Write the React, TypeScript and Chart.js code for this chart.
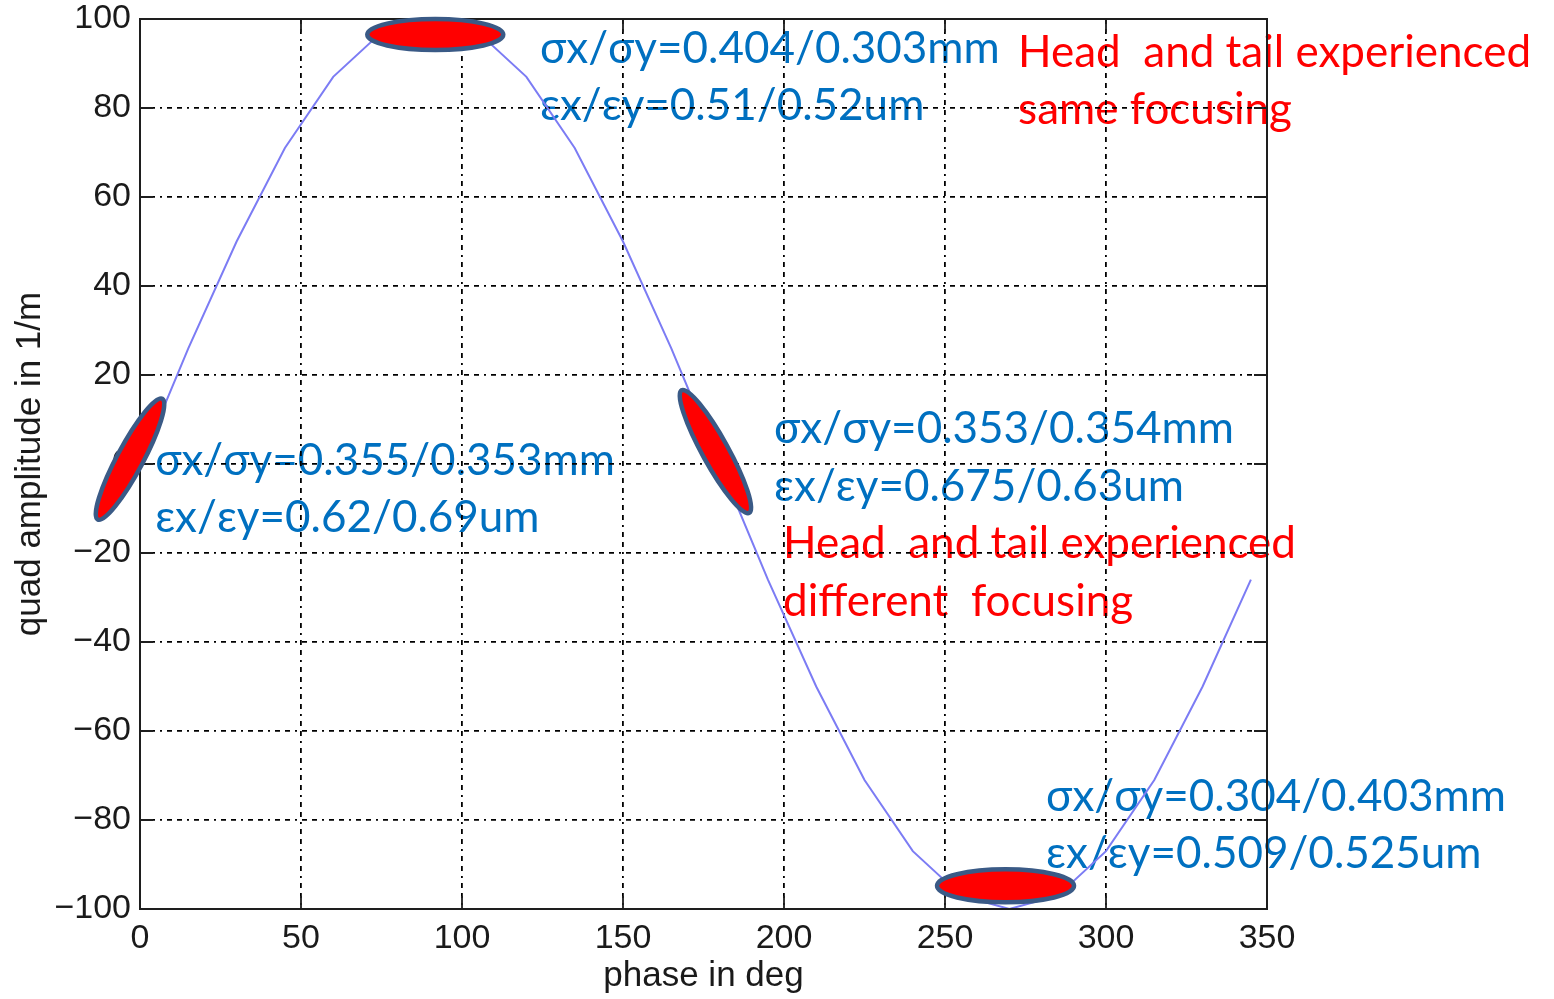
import React, { useEffect, useRef } from "react";
import { Chart, registerables } from "chart.js";

Chart.register(...registerables);

// ---- data ----
const phaseDeg = [0, 15, 30, 45, 60, 75, 90, 105, 120, 135, 150, 165, 180, 195, 210, 225, 240, 255, 270, 285, 300, 315, 330, 345];
const quadAmplitude = [0, 26, 50, 71, 87, 97, 100, 97, 87, 71, 50, 26, 0, -26, -50, -71, -87, -97, -100, -97, -87, -71, -50, -26];

const xTickValues = [0, 50, 100, 150, 200, 250, 300, 350];
const yTickValues = [-100, -80, -60, -40, -20, 0, 20, 40, 60, 80, 100];

// beam ellipse centres (data units)
const ellipseX = [91.7, -3.1, 178.7, 268.8];
const ellipseY = [96.5, 1.1, 2.8, -94.8];

// annotation texts and their anchors (data units, left / baseline)
const noteText = [
  "σx/σy=0.404/0.303mm",
  "εx/εy=0.51/0.52um",
  "Head  and tail experienced",
  "same focusing",
  "σx/σy=0.355/0.353mm",
  "εx/εy=0.62/0.69um",
  "σx/σy=0.353/0.354mm",
  "εx/εy=0.675/0.63um",
  "Head  and tail experienced",
  "different  focusing",
  "σx/σy=0.304/0.403mm",
  "εx/εy=0.509/0.525um",
];
const noteX = [124.2, 124.2, 272.7, 272.7, 4.7, 4.7, 196.9, 196.9, 199.7, 199.7, 281.4, 281.4];
const noteY = [90.1, 77.3, 89.2, 76.4, -2.5, -15.3, 4.7, -8.3, -21.1, -34.2, -78.0, -90.8];
const noteKind = ["beam", "beam", "focus", "focus", "beam", "beam", "beam", "beam", "focus", "focus", "beam", "beam"];

// ---- styles ----
const ELLIPSE_SHAPE = [
  { a: 68, b: 15.5, angle: 0 },
  { a: 68.5, b: 13, angle: -61.9 },
  { a: 70, b: 13, angle: 61.1 },
  { a: 68.5, b: 16.5, angle: 0 },
];
const NOTE_COLOR: Record<string, string> = { beam: "#0070C0", focus: "#FF0000" };
const NOTE_FONT = '44px Lato, "Open Sans", sans-serif';
const AXIS_FONT = "Liberation Sans, Arial, Helvetica, sans-serif";
const GRID_DASH = [5, 5, 5, 5, 2, 5];
const TICK_LEN = 13;

const fmt = (v: number) => (v < 0 ? "\u2212" + Math.abs(v) : String(v));

const overlayPlugin = {
  id: "overlay",
  beforeDraw(chart: any) {
    const { ctx } = chart;
    const x = chart.scales.x;
    const y = chart.scales.y;
    ctx.save();
    ctx.fillStyle = "#ffffff";
    ctx.fillRect(0, 0, chart.width, chart.height);
    ctx.font = NOTE_FONT;
    ctx.textAlign = "left";
    ctx.textBaseline = "alphabetic";
    noteText.forEach((t, i) => {
      ctx.fillStyle = NOTE_COLOR[noteKind[i]];
      ctx.fillText(t, x.getPixelForValue(noteX[i]), y.getPixelForValue(noteY[i]));
    });
    ctx.restore();
  },
  afterDatasetsDraw(chart: any) {
    const { ctx, chartArea } = chart;
    const x = chart.scales.x;
    const y = chart.scales.y;
    const { left, right, top, bottom } = chartArea;
    ctx.save();
    // frame
    ctx.strokeStyle = "#1e1e1e";
    ctx.lineWidth = 2;
    ctx.strokeRect(left, top, right - left, bottom - top);
    // inward ticks
    ctx.lineWidth = 1.8;
    ctx.beginPath();
    xTickValues.forEach((v) => {
      const px = x.getPixelForValue(v);
      ctx.moveTo(px, bottom);
      ctx.lineTo(px, bottom - TICK_LEN);
      ctx.moveTo(px, top);
      ctx.lineTo(px, top + TICK_LEN);
    });
    yTickValues.forEach((v) => {
      const py = y.getPixelForValue(v);
      ctx.moveTo(left, py);
      ctx.lineTo(left + TICK_LEN, py);
      ctx.moveTo(right, py);
      ctx.lineTo(right - TICK_LEN, py);
    });
    ctx.stroke();
    // beam ellipses
    ellipseX.forEach((cx, i) => {
      const s = ELLIPSE_SHAPE[i];
      ctx.beginPath();
      ctx.ellipse(
        x.getPixelForValue(cx),
        y.getPixelForValue(ellipseY[i]),
        s.a,
        s.b,
        (s.angle * Math.PI) / 180,
        0,
        Math.PI * 2
      );
      ctx.fillStyle = "#FF0000";
      ctx.fill();
      ctx.lineWidth = 4.5;
      ctx.strokeStyle = "#3A5A86";
      ctx.stroke();
    });
    ctx.restore();
  },
};

export default function App() {
  const canvasRef = useRef<HTMLCanvasElement | null>(null);

  useEffect(() => {
    const canvas = canvasRef.current;
    if (!canvas) return;
    const chart = new Chart(canvas, {
      type: "line",
      data: {
        datasets: [
          {
            data: phaseDeg.map((p, i) => ({ x: p, y: quadAmplitude[i] })),
            borderColor: "#7c7cf4",
            borderWidth: 2,
            pointRadius: 0,
            tension: 0,
            fill: false,
          },
        ],
      },
      options: {
        responsive: false,
        animation: false,
        devicePixelRatio: 1,
        layout: { padding: { left: 0, right: 287, top: 19, bottom: 0 } },
        plugins: {
          legend: { display: false },
          tooltip: { enabled: false },
        },
        scales: {
          x: {
            type: "linear",
            min: 0,
            max: 350,
            afterBuildTicks: (scale: any) => {
              scale.ticks = xTickValues.map((v) => ({ value: v }));
            },
            afterFit: (scale: any) => {
              scale.height = 90;
              scale.paddingLeft = 0;
              scale.paddingRight = 0;
            },
            grid: { color: "#000000", lineWidth: 1.8, drawTicks: false },
            border: { display: false, dash: GRID_DASH },
            ticks: {
              padding: 9,
              color: "#1a1a1a",
              font: { family: AXIS_FONT, size: 34 },
              maxRotation: 0,
              autoSkip: false,
              callback: (v: any) => fmt(Number(v)),
            },
            title: {
              display: true,
              text: "phase in deg",
              color: "#1a1a1a",
              font: { family: AXIS_FONT, size: 35 },
              padding: { top: 0, bottom: 2 },
            },
          },
          y: {
            type: "linear",
            min: -100,
            max: 100,
            afterBuildTicks: (scale: any) => {
              scale.ticks = yTickValues.map((v) => ({ value: v }));
            },
            afterFit: (scale: any) => {
              scale.width = 140;
              scale.paddingTop = 0;
              scale.paddingBottom = 0;
            },
            grid: { color: "#000000", lineWidth: 1.8, drawTicks: false },
            border: { display: false, dash: GRID_DASH },
            ticks: {
              padding: 9,
              color: "#1a1a1a",
              font: { family: AXIS_FONT, size: 34 },
              autoSkip: false,
              callback: (v: any) => fmt(Number(v)),
            },
            title: {
              display: true,
              text: "quad amplitude in 1/m",
              color: "#1a1a1a",
              font: { family: AXIS_FONT, size: 35 },
              padding: { top: 9, bottom: 0 },
            },
          },
        },
      },
      plugins: [overlayPlugin],
    });
    return () => chart.destroy();
  }, []);

  return (
    <div style={{ position: "absolute", left: 0, top: 0, width: 1554, height: 999, background: "#fff" }}>
      <canvas ref={canvasRef} width={1554} height={999} style={{ display: "block" }} />
    </div>
  );
}
